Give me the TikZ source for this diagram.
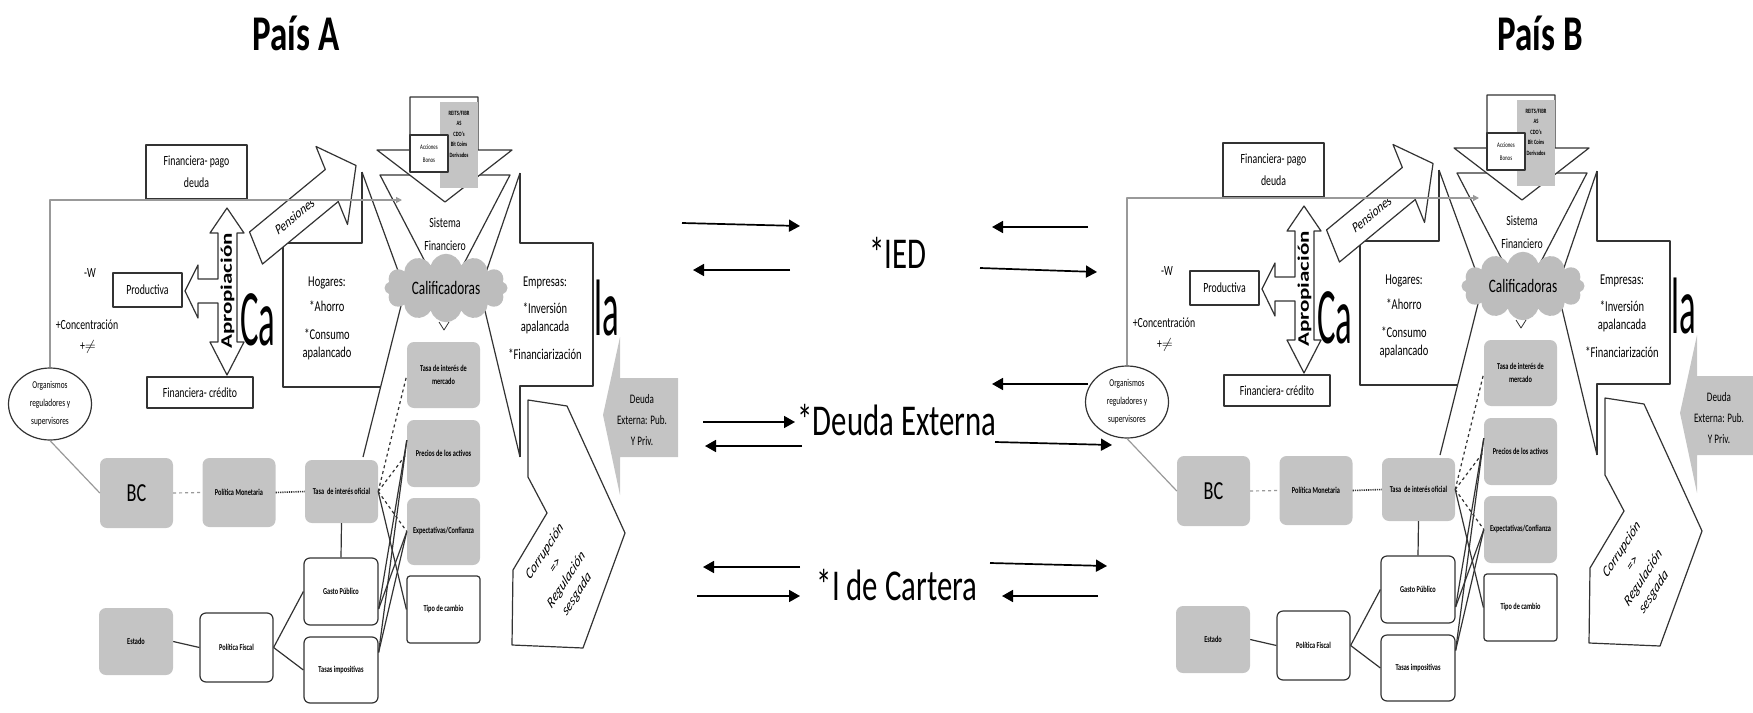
\documentclass[tikz,border=0pt]{standalone}
\usepackage{fontspec}
\setmainfont{Carlito}[FakeStretch=0.7]
\newfontfamily\plainf{Carlito}
\usetikzlibrary{arrows.meta,shapes.geometric,shapes.symbols,shapes.arrows}
\definecolor{lc}{HTML}{333333}
\definecolor{gfill}{HTML}{C4C4C4}
\definecolor{gcl}{HTML}{BDBDBD}
\definecolor{gline}{HTML}{999999}
\newcommand\fsz[2]{\fontsize{#1}{#2}\selectfont}
\tikzset{
  ln/.style={draw=lc, line width=1.2pt},
  gl/.style={draw=gline, line width=1.2pt},
  box/.style={draw=lc, line width=1.2pt, fill=white, align=center, inner sep=1pt},
  gbox/.style={fill=gfill, rounded corners=7pt, minimum width=73pt, minimum height=66pt, align=center, inner sep=1pt, font=\bfseries\fsz{9}{13}},
  wbox/.style={draw=lc, line width=1.2pt, fill=white, rounded corners=6pt, minimum width=74pt, minimum height=67pt, align=center, inner sep=1pt, font=\bfseries\fsz{9}{13}},
  mid/.style={draw=black, line width=1.7pt, -{Triangle[length=11pt,width=12pt]}},
  big/.style={font=\fsz{44}{44}, anchor=base, inner sep=0pt}
}
\begin{document}
\begin{tikzpicture}[x=1pt, y=-1pt, line join=round]
\useasboundingbox (0,0) rectangle (1753,712);
\clip (0,0) rectangle (1753,712);

% titles
\node[font=\bfseries\fsz{50}{50}, anchor=base, inner sep=0pt] (ta) at (296,50) {País A};
\node[font=\bfseries\fsz{50}{50}, anchor=base, inner sep=0pt] (tb) at (1540,50) {País B};

\foreach \p/\dx/\dy in {A/0/0,B/1077/-2}{
\begin{scope}[shift={(\dx,\dy)}]
  % big text partly hidden
  \node[anchor=base west, inner sep=0pt, font=\fsz{80}{80}] (\p-ca) at (240,345) {\scalebox{0.62}[1]{Ca}};
  \node[anchor=base west, inner sep=0pt, font=\fsz{80}{80}] (\p-la) at (594,335) {\scalebox{0.62}[1]{la}};
  % cross shape
  \fill[white] (362,172)--(362,243)--(283,243)--(283,387)--(381,387)--(363,457)--(520,457)--(520,386)--(593,386)--(593,243)--(520,243)--(520,173)--cycle;
  \draw[ln] (362,172)--(362,243)--(283,243)--(283,387)--(381,387);
  \draw[ln] (520,173)--(520,243)--(593,243)--(593,386)--(520,386)--(520,457);
  \draw[ln] (362,172)--(405,290)--(363,457);
  \draw[ln] (520,173)--(480,290)--(520,457);
  % funnel
  \draw[ln, fill=white] (380,175)--(510,175)--(445,300)--cycle;
  % down arrow with securities
  \draw[ln, fill=white] (410,97)--(478,97)--(478,150)--(512,150)--(445,202)--(377,150)--(410,150)--cycle;
  \fill[gfill] (440,102) rectangle (478,188);
  \node[font=\bfseries\fsz{6.5}{10.5}, align=center, inner sep=0pt] (\p-reits) at (459,134) {REITS/FIBR\\AS\\CDO's\\Bit Coins\\Derivados};
  \node[box, minimum width=38pt, minimum height=37pt, inner sep=0pt, font=\fsz{7}{13}] (\p-acc) at (429,153.5) {Acciones\\Bonos};
  % sistema financiero
  \node[align=center, font=\fsz{14}{23}] (\p-sf) at (445,234) {Sistema\\Financiero};
  \node[cloud, cloud puffs=12, aspect=1.9, fill=gcl, inner sep=0pt, minimum width=123pt, minimum height=67pt, font=\fsz{19}{19}] (\p-cal) at (446,288) {Calificadoras};
  \draw[ln, line width=0.8pt] (439,322)--(444,330)--(449,322);
  % hogares / empresas
  \node[align=center, font=\fsz{15}{18}] (\p-hog) at (327,318) {Hogares:\\[7pt]*Ahorro\\[10pt]*Consumo\\apalancado};
  \node[align=center, font=\fsz{15}{18}] (\p-emp) at (545,318) {Empresas:\\[9pt]*Inversión\\apalancada\\[10pt]*Financiarización};
  % apropiacion arrow
  \draw[ln, fill=white] (227,208)--(244,233)--(237,233)--(237,342)--(244,342)--(227,375)--(210,342)--(218,342)--(218,303)--(198,303)--(198,318)--(185,291)--(198,265)--(198,279)--(218,279)--(218,233)--(210,233)--cycle;
  \begin{scope}[shift={(227.5,291)}, xscale=0.7]
    \node[transform shape, rotate=90, font=\plainf\bfseries\fsz{23}{23}, inner sep=0pt] (\p-apr) at (0,0) {Apropiación};
  \end{scope}
  % left texts and boxes
  \node[box, minimum width=101pt, minimum height=54pt, font=\fsz{14}{22}] (\p-fpd) at (196.5,172) {Financiera- pago\\deuda};
  \node[box, minimum width=69pt, minimum height=34pt, font=\fsz{14}{17}] (\p-prod) at (147.5,290) {Productiva};
  \node[box, minimum width=106pt, minimum height=31pt, font=\fsz{14}{17}] (\p-fcr) at (200,392.5) {Financiera- crédito};
  \node[font=\fsz{14}{17}] (\p-w) at (90,273) {-W};
  \node[font=\fsz{14}{17}] (\p-conc) at (87,325) {+Concentración};
  \node[font=\fsz{14}{17}] (\p-neq) at (88,347) {+$\neq$};
  % pensiones arrow
  \begin{scope}[shift={(256,248)}, xscale=0.7, rotate=30]
    \draw[ln, fill=white] (0,-18.5)--(125,-18.5)--(125,-45)--(165,0)--(125,45)--(125,18.5)--(0,18.5)--cycle;
    \node[transform shape, font=\plainf\fsz{15}{15}, inner sep=0pt] (\p-pen) at (64,0) {Pensiones};
  \end{scope}
  % deuda externa gray arrow
  \fill[gfill] (603,415)--(620,337)--(620,378)--(678,378)--(678,457)--(620,457)--(620,495)--cycle;
  \node[align=center, font=\fsz{13}{21}] (\p-deu) at (642,420) {Deuda\\Externa: Pub.\\Y Priv.};
  % corrupcion chevron
  \draw[ln, fill=white] (528,400)--(567,406)--(625,533)--(583,648)--(512,645)--(513,570)--(547,513)--(528,477)--cycle;
  \begin{scope}[shift={(561,573)}, xscale=0.7]
    \node[transform shape, rotate=47, align=center, font=\plainf\itshape\fsz{16}{21}, inner sep=0pt] (\p-cor) at (0,0) {Corrupción\\=>\\Regulación\\sesgada};
  \end{scope}
  % organismos
  \node[ellipse, draw=lc, line width=1.2pt, fill=white, minimum width=83pt, minimum height=72pt, inner sep=0pt, align=center, font=\fsz{10.5}{18}] (\p-org) at (50,404) {Organismos\\reguladores y\\supervisores};
  \coordinate (\p-sfin) at (402,200);
  \draw[gl, -{Triangle[length=6pt,width=6pt]}] (\p-org.north) |- (\p-sfin);
  % lower boxes
  \node[gbox, minimum height=70pt, font=\fsz{26}{26}] (\p-bc) at (136.5,493) {BC};
  \node[gbox, minimum height=69pt] (\p-pm) at (239,492.5) {Política Monetaria};
  \node[gbox, minimum height=63pt] (\p-to) at (341.5,491.5) {Tasa\ \ de interés oficial};
  \node[gbox] (\p-tm) at (443.5,375) {Tasa de interés de\\mercado};
  \node[gbox, minimum height=67pt] (\p-pa) at (443.5,453.5) {Precios de los activos};
  \node[gbox, minimum height=67pt] (\p-ec) at (443.5,531.5) {Expectativas/Confianza};
  \node[wbox, minimum width=73pt, rounded corners=3pt] (\p-tc) at (443.5,609.5) {Tipo de cambio};
  \node[wbox] (\p-gp) at (341,591.5) {Gasto Público};
  \node[wbox, minimum height=66pt] (\p-ti) at (341,670) {Tasas impositivas};
  \node[wbox, minimum width=73pt, minimum height=69pt] (\p-pf) at (236.5,647.5) {Política Fiscal};
  \node[gbox, minimum width=74pt, minimum height=67pt] (\p-es) at (136,641.5) {Estado};
  % connectors
  \draw[gl] (\p-org.south) -- (\p-bc.west);
  \draw[gl, dashed] (\p-bc.east) -- (\p-pm.west);
  \draw[ln, densely dotted, line width=1.6pt] (\p-pm.east) -- (\p-to.west);
  \draw[ln, dashed] (\p-to.east) -- (\p-tm.west);
  \draw[ln, dashed] (\p-to.east) -- (\p-pa.west);
  \draw[ln, dashed] (\p-to.east) -- (\p-ec.west);
  \draw[ln] (\p-to.east) -- (\p-tc.west);
  \draw[ln] (\p-to.south) -- (\p-gp.north);
  \draw[ln] (\p-gp.-25) -- (\p-pa.160);
  \draw[ln] (\p-gp.-25) -- (\p-ec.west);
  \draw[ln] (\p-ti.25) -- (\p-pa.160);
  \draw[ln] (\p-ti.25) -- (\p-ec.west);
  \draw[ln] (\p-es.east) -- (\p-pf.west);
  \draw[ln] (\p-pf.east) -- (\p-gp.west);
  \draw[ln] (\p-pf.east) -- (\p-ti.west);
\end{scope}
}

% middle flows
\node[big] (ied) at (898,268) {*IED};
\node[big] (deuda) at (897,435) {*Deuda Externa};
\node[big] (cart) at (897,600) {*I de Cartera};

\coordinate (i1a) at (682,223); \coordinate (i1b) at (800,226);
\coordinate (i2a) at (790,270); \coordinate (i2b) at (693,270);
\coordinate (i3a) at (1088,227); \coordinate (i3b) at (992,227);
\coordinate (i4a) at (980,268); \coordinate (i4b) at (1097,272);
\coordinate (d1a) at (703,422); \coordinate (d1b) at (795,422);
\coordinate (d2a) at (802,446); \coordinate (d2b) at (705,446);
\coordinate (d3a) at (1088,384); \coordinate (d3b) at (992,384);
\coordinate (d4a) at (995,442); \coordinate (d4b) at (1112,445);
\coordinate (c1a) at (800,567); \coordinate (c1b) at (703,567);
\coordinate (c2a) at (697,596); \coordinate (c2b) at (800,596);
\coordinate (c3a) at (990,563); \coordinate (c3b) at (1107,566);
\coordinate (c4a) at (1098,596); \coordinate (c4b) at (1002,596);
\foreach \s/\e in {i1a/i1b,i2a/i2b,i3a/i3b,i4a/i4b,d1a/d1b,d2a/d2b,d3a/d3b,d4a/d4b,c1a/c1b,c2a/c2b,c3a/c3b,c4a/c4b}
  \draw[mid] (\s) -- (\e);
\end{tikzpicture}
\end{document}
